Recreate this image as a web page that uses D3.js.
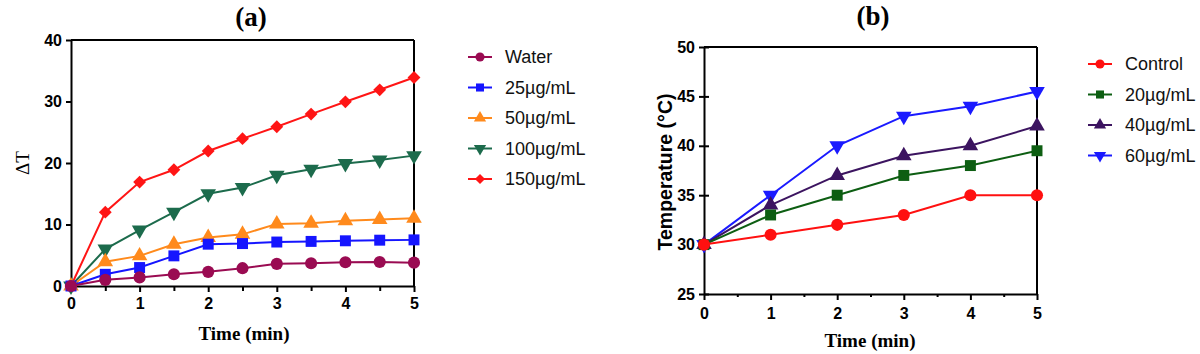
<!DOCTYPE html>
<html><head><meta charset="utf-8">
<script src="https://cdn.jsdelivr.net/npm/d3@7"></script>
<style>body{margin:0;background:#fff}svg{display:block}</style>
</head><body>
<svg id="c" width="1200" height="354"></svg>
<script>
// ---- Panel (a) data ----
const timeA = [0,0.5,1,1.5,2,2.5,3,3.5,4,4.5,5];
const waterA = [0,1.0,1.4,1.9,2.3,2.9,3.6,3.7,3.85,3.9,3.8];
const c25A = [0,1.9,3.0,4.9,6.8,6.9,7.15,7.25,7.35,7.45,7.5];
const c50A = [0,3.95,4.9,6.8,7.9,8.4,10.1,10.2,10.6,10.8,11.0];
const c100A = [0,6.0,9.1,12.0,15.0,16.0,18.0,19.0,19.9,20.5,21.2];
const c150A = [0,12.0,16.9,18.9,21.95,23.95,25.9,27.95,29.95,31.9,33.9];
const seriesNamesA = ["Water","25\u00b5g/mL","50\u00b5g/mL","100\u00b5g/mL","150\u00b5g/mL"];
const xTicksA = [0,1,2,3,4,5];
const yTicksA = [0,10,20,30,40];

// ---- Panel (b) data ----
const timeB = [0,1,2,3,4,5];
const controlB = [30,31,32,33,35,35];
const c20B = [30,33,35,37,38,39.5];
const c40B = [30,34,37,39,40,42];
const c60B = [30,35,40,43,44,45.5];
const seriesNamesB = ["Control","20\u00b5g/mL","40\u00b5g/mL","60\u00b5g/mL"];
const xTicksB = [0,1,2,3,4,5];
const yTicksB = [25,30,35,40,45,50];

const svg = d3.select("#c");
const SANS = "'Liberation Sans', Arial, sans-serif";
const SERIF = "'Liberation Serif', 'Times New Roman', serif";

const sym = {
  circle: d3.symbol().type(d3.symbolCircle).size(115),
  square: d3.symbol().type(d3.symbolSquare).size(120),
  triangle: d3.symbol().type(d3.symbolTriangle).size(105),
  tridown: d3.symbol().type(d3.symbolTriangle).size(105),
  diamond: d3.symbol().type(d3.symbolDiamond2).size(105)
};

function drawPanel(cfg){
  const g = svg.append("g");
  const x = d3.scaleLinear().domain([0,5]).range(cfg.xr);
  const y = d3.scaleLinear().domain(cfg.yd).range(cfg.yr);
  g.append("line").attr("x1",cfg.xr[0]).attr("x2",cfg.xr[1]).attr("y1",cfg.yr[1]).attr("y2",cfg.yr[1]).attr("stroke","#000").attr("stroke-width",2);
  g.append("line").attr("x1",cfg.xr[1]).attr("x2",cfg.xr[1]).attr("y1",cfg.yr[0]).attr("y2",cfg.yr[1]).attr("stroke","#000").attr("stroke-width",2);
  const xMinor = g.append("g").attr("transform",`translate(0,${cfg.yr[0]})`)
    .call(d3.axisBottom(x).tickValues(d3.range(0.5,5,1)).tickSize(cfg.minorX).tickFormat(""));
  xMinor.select(".domain").remove();
  xMinor.selectAll("line").attr("stroke-width",2);
  const xa = g.append("g").attr("transform",`translate(0,${cfg.yr[0]})`)
    .call(d3.axisBottom(x).tickValues(cfg.xt).tickFormat(d3.format("d")).tickSize(cfg.majorX).tickSizeOuter(0).tickPadding(cfg.xpad));
  xa.select(".domain").attr("stroke-width",2);
  xa.selectAll("line").attr("stroke-width",2);
  xa.selectAll("text").attr("font-family",SANS).attr("font-weight","bold").attr("font-size",16).attr("fill","#000");
  const ya = g.append("g").attr("transform",`translate(${cfg.xr[0]},0)`)
    .call(d3.axisLeft(y).tickValues(cfg.yt).tickFormat(d3.format("d")).tickSize(cfg.majorY).tickSizeOuter(0).tickPadding(cfg.ypad));
  ya.select(".domain").attr("stroke-width",2);
  ya.selectAll("line").attr("stroke-width",2);
  if(cfg.cross) ya.selectAll(".tick line").attr("x1",5);
  ya.selectAll("text").attr("font-family",SANS).attr("font-weight","bold").attr("font-size",16).attr("fill","#000");
  const line = d3.line().x(d=>x(d[0])).y(d=>y(d[1]));
  cfg.series.slice().reverse().forEach(s=>{
    const pts = cfg.t.map((t,i)=>[t,s.v[i]]);
    g.append("path").attr("d",line(pts)).attr("fill","none").attr("stroke",s.c).attr("stroke-width",2);
    g.selectAll(null).data(pts).enter().append("path")
      .attr("d",sym[s.m]()).attr("fill",s.c)
      .attr("transform",d=>`translate(${x(d[0])},${y(d[1])})${s.m==="tridown"?" rotate(180)":""}`);
  });
  cfg.series.forEach((s,i)=>{
    const yy = cfg.leg[1] + i*30.5;
    g.append("line").attr("x1",cfg.leg[0]-12).attr("x2",cfg.leg[0]+12).attr("y1",yy).attr("y2",yy).attr("stroke",s.c).attr("stroke-width",2);
    g.append("path").attr("d",d3.symbol().type(sym[s.m].type()).size(65)()).attr("fill",s.c)
      .attr("transform",`translate(${cfg.leg[0]},${yy})${s.m==="tridown"?" rotate(180)":""}`);
    g.append("text").attr("x",cfg.leg[0]+25).attr("y",yy+6).text(s.n)
      .attr("font-family",SANS).attr("font-size",18).attr("fill","#111");
  });
}

drawPanel({
  xr:[71,414], yr:[286,40], yd:[0,40], xt:xTicksA, yt:yTicksA, t:timeA,
  majorX:6, minorX:5, majorY:5, xpad:6, ypad:4, cross:false,
  leg:[480,57],
  series:[
    {n:seriesNamesA[0], v:waterA, c:"#9a0b52", m:"circle"},
    {n:seriesNamesA[1], v:c25A, c:"#1515ff", m:"square"},
    {n:seriesNamesA[2], v:c50A, c:"#ff8a1c", m:"triangle"},
    {n:seriesNamesA[3], v:c100A, c:"#1c6b4c", m:"tridown"},
    {n:seriesNamesA[4], v:c150A, c:"#ff1515", m:"diamond"}
  ]
});
drawPanel({
  xr:[704,1037], yr:[294,47], yd:[25,50], xt:xTicksB, yt:yTicksB, t:timeB,
  majorX:6, minorX:3, majorY:5, xpad:8, ypad:4, cross:true,
  leg:[1100,64],
  series:[
    {n:seriesNamesB[0], v:controlB, c:"#ff1010", m:"circle"},
    {n:seriesNamesB[1], v:c20B, c:"#0d5e12", m:"square"},
    {n:seriesNamesB[2], v:c40B, c:"#3c1460", m:"triangle"},
    {n:seriesNamesB[3], v:c60B, c:"#1a1aff", m:"tridown"}
  ]
});

svg.append("text").attr("x",251).attr("y",26).attr("text-anchor","middle").text("(a)")
  .attr("font-family",SERIF).attr("font-weight","bold").attr("font-size",27);
svg.append("text").attr("x",873).attr("y",25).attr("text-anchor","middle").text("(b)")
  .attr("font-family",SERIF).attr("font-weight","bold").attr("font-size",27);
svg.append("text").attr("x",244).attr("y",340).attr("text-anchor","middle").text("Time (min)")
  .attr("font-family",SERIF).attr("font-weight","bold").attr("font-size",19);
svg.append("text").attr("x",870).attr("y",347).attr("text-anchor","middle").text("Time (min)")
  .attr("font-family",SERIF).attr("font-weight","bold").attr("font-size",19);
svg.append("text").attr("transform","translate(29,163) rotate(-90)").attr("text-anchor","middle").text("\u0394T")
  .attr("font-family",SERIF).attr("font-size",19);
svg.append("text").attr("transform","translate(672,172) rotate(-90)").attr("text-anchor","middle").text("Temperature (\u00b0C)")
  .attr("font-family",SANS).attr("font-weight","bold").attr("font-size",19.5);
</script>
</body></html>
